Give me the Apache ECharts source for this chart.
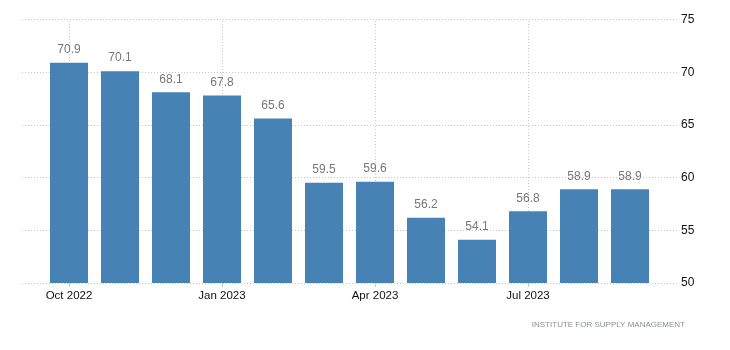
<!DOCTYPE html>
<html>
<head>
<meta charset="utf-8">
<script src="https://cdn.jsdelivr.net/npm/echarts@6/dist/echarts.min.js"></script>
<style>
  html, body { margin: 0; padding: 0; background: #fff; }
  #chart { width: 730px; height: 350px; }
</style>
</head>
<body>
<div id="chart"></div>
<script>
// ISM index, monthly
const months = ['Oct 2022', 'Nov 2022', 'Dec 2022', 'Jan 2023', 'Feb 2023', 'Mar 2023',
                'Apr 2023', 'May 2023', 'Jun 2023', 'Jul 2023', 'Aug 2023', 'Sep 2023'];
const values = [70.9, 70.1, 68.1, 67.8, 65.6, 59.5, 59.6, 56.2, 54.1, 56.8, 58.9, 58.9];
const labelledMonths = ['Oct 2022', 'Jan 2023', 'Apr 2023', 'Jul 2023'];
const yTicks = [50, 55, 60, 65, 70, 75];
const sourceText = 'INSTITUTE FOR SUPPLY MANAGEMENT';

const font = '"Liberation Sans", Arial, sans-serif';
const gridDash = { type: [1, 2], color: '#c8c8c8', width: 1 };

const chart = echarts.init(document.getElementById('chart'), null, { renderer: 'canvas' });

chart.setOption({
  animation: false,
  grid: [
    { left: 43.5, right: 74.5, top: 19.5, bottom: 67 },
    { left: 22, right: 53, top: 19.5, bottom: 67 }
  ],
  xAxis: [
    {
      type: 'category',
      gridIndex: 0,
      data: months,
      boundaryGap: true,
      axisLine: { show: false },
      axisTick: {
        show: true,
        alignWithLabel: true,
        interval: (i, v) => labelledMonths.includes(v),
        length: 4,
        lineStyle: { color: '#c8c8c8' }
      },
      axisLabel: {
        interval: (i, v) => labelledMonths.includes(v),
        color: '#111',
        fontFamily: font,
        fontSize: 11.5,
        margin: 7
      },
      splitLine: { show: false }
    },
    {
      type: 'value',
      gridIndex: 1,
      min: 0, max: 1,
      show: false
    }
  ],
  yAxis: [
    {
      type: 'value',
      gridIndex: 0,
      min: yTicks[0],
      max: yTicks[yTicks.length - 1],
      interval: 5,
      show: false
    },
    {
      type: 'value',
      gridIndex: 1,
      position: 'right',
      min: yTicks[0],
      max: yTicks[yTicks.length - 1],
      interval: 5,
      axisLine: { show: false },
      axisTick: { show: false },
      axisLabel: {
        color: '#111',
        fontFamily: font,
        fontSize: 12,
        margin: 4
      },
      splitLine: { show: true, lineStyle: gridDash }
    }
  ],
  series: [
    {
      type: 'bar',
      xAxisIndex: 0,
      yAxisIndex: 0,
      data: values,
      barWidth: 38,
      itemStyle: { color: '#4682b4' },
      label: {
        show: true,
        position: 'top',
        distance: 7,
        color: '#777',
        fontFamily: font,
        fontSize: 12,
        formatter: p => p.value.toFixed(1)
      },
      markLine: {
        silent: true,
        symbol: 'none',
        label: { show: false },
        lineStyle: gridDash,
        z: 0,
        data: labelledMonths.map(m => ({ xAxis: m }))
      },
      z: 2
    }
  ],
  graphic: [
    {
      type: 'text',
      right: 45,
      top: 321,
      style: {
        text: sourceText,
        fill: '#8a8f99',
        font: '8px ' + font
      }
    }
  ]
});
</script>
</body>
</html>
